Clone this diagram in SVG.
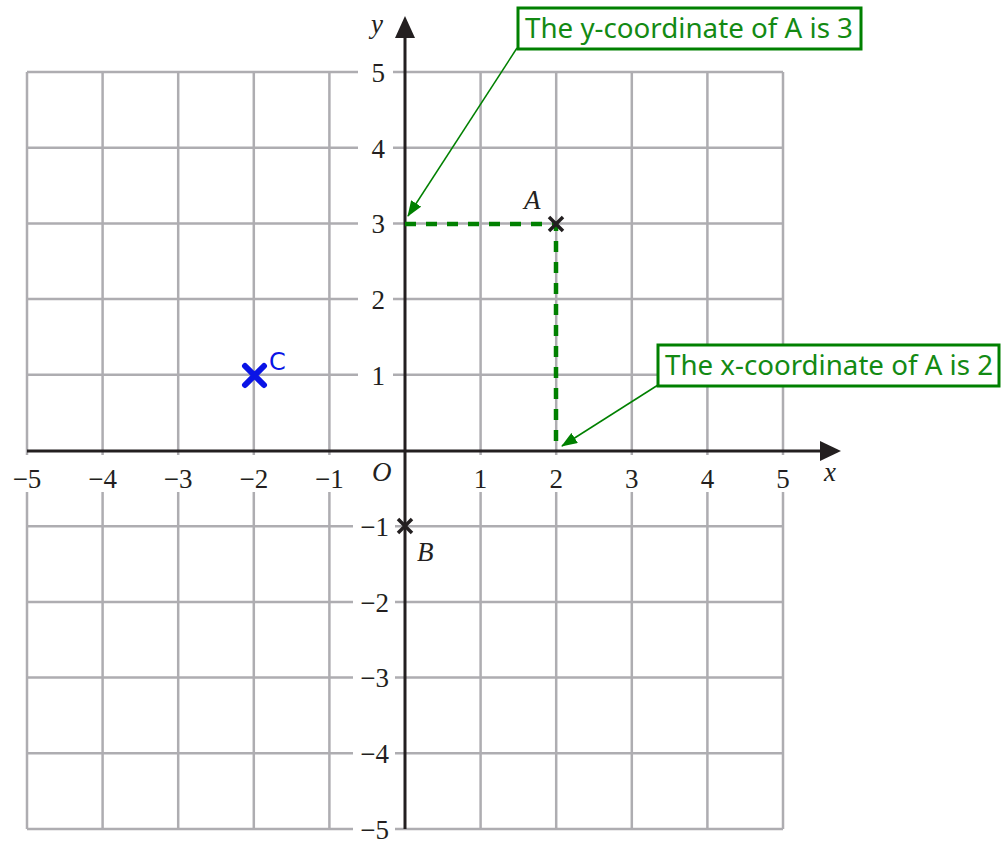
<svg xmlns="http://www.w3.org/2000/svg" width="1003" height="841" viewBox="0 0 1003 841">
<style>
.grid{stroke:#aeadb1;stroke-width:2.5;fill:none}
.axis{stroke:#231f20;stroke-width:3;fill:none}
.tick{font-family:"Liberation Serif","Times New Roman",serif;font-size:27px;fill:#231f20}
.ital{font-family:"Liberation Serif","Times New Roman",serif;font-size:27px;font-style:italic;fill:#231f20}
.bg{fill:#ffffff}
.dash{stroke:#008000;stroke-width:4.5;stroke-dasharray:11 10;fill:none}
.mk{stroke:#231f20;stroke-width:3.5;stroke-linecap:butt}
.box{fill:#ffffff;stroke:#008000;stroke-width:3}
.note{font-family:"Noto Sans","Open Sans",sans-serif;font-size:27px;fill:#138a13}
.lead{stroke:#008000;stroke-width:1.5;fill:none}
</style>
<defs>
<marker id="ah" markerWidth="16" markerHeight="12" refX="15" refY="6" orient="auto" markerUnits="userSpaceOnUse">
<path d="M0,0 L16,6 L0,12 Z" fill="#008000"/>
</marker>
</defs>
<rect width="1003" height="841" fill="#ffffff"/>
<g id="grid">
<path class="grid" d="M27,72V829M102.6,72V829M178.2,72V829M253.8,72V829M329.4,72V829M480.6,72V829M556.2,72V829M631.8,72V829M707.4,72V829M783,72V829"/>
<path class="grid" d="M27,72H783M27,147.7H783M27,223.4H783M27,299.1H783M27,374.8H783M27,526.2H783M27,601.9H783M27,677.6H783M27,753.3H783M27,829H783"/>
</g>
<g id="label-backgrounds">
<rect class="bg" x="8" y="455" width="38" height="37"/>
<rect class="bg" x="84" y="455" width="38" height="37"/>
<rect class="bg" x="160" y="455" width="38" height="37"/>
<rect class="bg" x="236" y="455" width="38" height="37"/>
<rect class="bg" x="311" y="455" width="38" height="37"/>
<rect class="bg" x="470" y="455" width="22" height="37"/>
<rect class="bg" x="545" y="455" width="22" height="37"/>
<rect class="bg" x="621" y="455" width="22" height="37"/>
<rect class="bg" x="696" y="455" width="22" height="37"/>
<rect class="bg" x="772" y="455" width="22" height="37"/>
<rect class="bg" x="358" y="58" width="35" height="30"/>
<rect class="bg" x="358" y="133" width="35" height="30"/>
<rect class="bg" x="358" y="209" width="35" height="30"/>
<rect class="bg" x="358" y="285" width="35" height="30"/>
<rect class="bg" x="358" y="360" width="35" height="30"/>
<rect class="bg" x="353" y="511" width="42" height="30"/>
<rect class="bg" x="353" y="587" width="42" height="30"/>
<rect class="bg" x="353" y="663" width="42" height="30"/>
<rect class="bg" x="353" y="738" width="42" height="30"/>
<rect class="bg" x="353" y="814" width="42" height="27"/>
</g>
<g id="axes">
<path class="axis" d="M27,451H822"/>
<path d="M820,441L841,451L820,461Z" fill="#231f20"/>
<path class="axis" d="M405,829V36"/>
<path d="M395,38L405,16L415,38Z" fill="#231f20"/>
</g>
<g id="tick-labels">
<text class="tick" x="27" y="488" text-anchor="middle">−5</text>
<text class="tick" x="102.6" y="488" text-anchor="middle">−4</text>
<text class="tick" x="178.2" y="488" text-anchor="middle">−3</text>
<text class="tick" x="253.8" y="488" text-anchor="middle">−2</text>
<text class="tick" x="329.4" y="488" text-anchor="middle">−1</text>
<text class="tick" x="480.6" y="488" text-anchor="middle">1</text>
<text class="tick" x="556.2" y="488" text-anchor="middle">2</text>
<text class="tick" x="631.8" y="488" text-anchor="middle">3</text>
<text class="tick" x="707.4" y="488" text-anchor="middle">4</text>
<text class="tick" x="783" y="488" text-anchor="middle">5</text>
<text class="tick" x="385" y="82" text-anchor="end">5</text>
<text class="tick" x="385" y="158" text-anchor="end">4</text>
<text class="tick" x="385" y="233" text-anchor="end">3</text>
<text class="tick" x="385" y="309" text-anchor="end">2</text>
<text class="tick" x="385" y="385" text-anchor="end">1</text>
<text class="tick" x="389" y="536" text-anchor="end">−1</text>
<text class="tick" x="389" y="612" text-anchor="end">−2</text>
<text class="tick" x="389" y="687" text-anchor="end">−3</text>
<text class="tick" x="389" y="763" text-anchor="end">−4</text>
<text class="tick" x="389" y="839" text-anchor="end">−5</text>
<text class="ital" x="372" y="481">O</text>
<text class="ital" x="824" y="481">x</text>
<text class="ital" x="371" y="33">y</text>
</g>
<g id="dashes">
<path class="dash" d="M405,224H556V451"/>
</g>
<g id="point-A">
<path class="mk" d="M549,217L563,231M563,217L549,231"/>
<text class="ital" x="524" y="209">A</text>
</g>
<g id="point-B">
<path class="mk" d="M398,519L412,533M412,519L398,533"/>
<text class="ital" x="417" y="561">B</text>
</g>
<g id="point-C">
<path d="M245,366L264,385M264,366L245,385" stroke="#0a14e6" stroke-width="6" stroke-linecap="round"/>
<text x="269" y="370" font-family="'DejaVu Sans',sans-serif" font-size="24" fill="#0a14e6">C</text>
</g>
<g id="connectors">
<path class="lead" d="M517,48L408,216" marker-end="url(#ah)"/>
<path class="lead" d="M658,385L562,446" marker-end="url(#ah)"/>
</g>
<g id="callout-y">
<rect class="box" x="518" y="8" width="343" height="41"/>
<text class="note" x="525" y="38" textLength="328" lengthAdjust="spacingAndGlyphs">The y-coordinate of A is 3</text>
</g>
<g id="callout-x">
<rect class="box" x="658" y="345" width="341" height="41"/>
<text class="note" x="665" y="375" textLength="328" lengthAdjust="spacingAndGlyphs">The x-coordinate of A is 2</text>
</g>
</svg>
